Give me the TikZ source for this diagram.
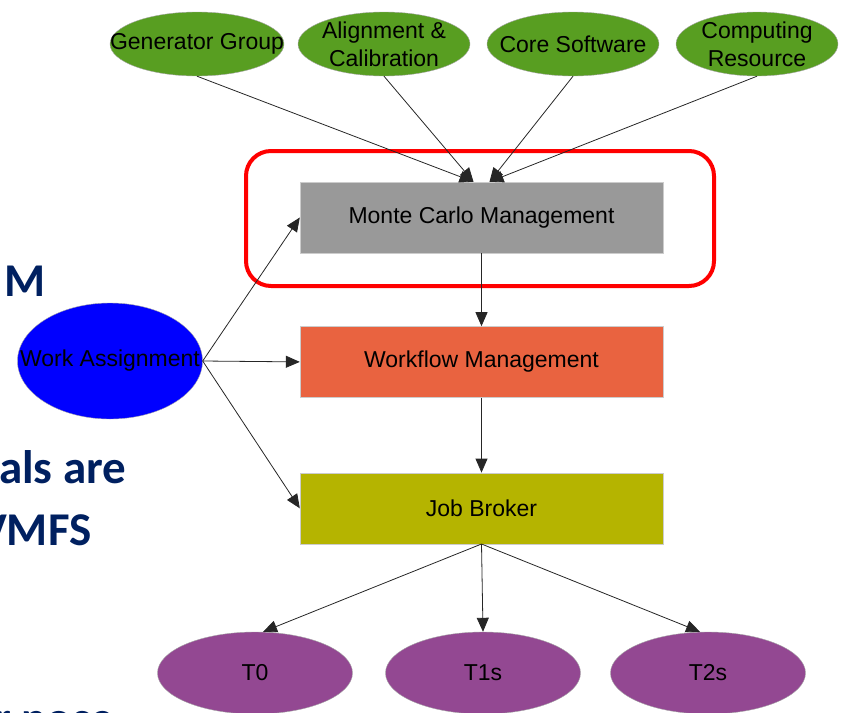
\documentclass[tikz,border=0pt]{standalone}
\usepackage{fontspec}
\setmainfont{Liberation Sans}
\newfontfamily\slidefont{Carlito}
\usetikzlibrary{shapes.geometric}
\usetikzlibrary{arrows.meta}
\usetikzlibrary{positioning}

\definecolor{grpgreen}{RGB}{88,158,33}
\definecolor{wablue}{RGB}{0,0,255}
\definecolor{mcgray}{RGB}{153,153,153}
\definecolor{wforange}{RGB}{233,99,64}
\definecolor{jbolive}{RGB}{181,180,0}
\definecolor{tierpurple}{RGB}{147,72,146}
\definecolor{slidenavy}{RGB}{0,32,96}

\tikzset{
  oval/.style={ellipse,draw=gray!70,thin,inner sep=0pt},
  ovaltext/.style={font=\fontsize{23}{28}\selectfont,align=center},
  block/.style={rectangle,draw=gray!40,thin,minimum width=363,minimum height=71,inner sep=0pt,font=\fontsize{23}{28}\selectfont},
  edge/.style={-{Triangle[length=14pt,width=12pt]},line width=0.8pt,draw=black!85},
  slide/.style={anchor=base west,inner sep=0pt,text=slidenavy,font=\slidefont\bfseries\fontsize{47}{56}\selectfont}
}

\begin{document}
\begin{tikzpicture}[x=1pt,y=-1pt]
  \useasboundingbox (0,0) rectangle (842,712);
  \clip (0,0) rectangle (842,712);
  %slide text behind the diagram
  \node[slide] (s1) at (4,296) {M};
  \node[slide] (s2) at (-1,483) {als are};
  \node[slide] (s3) at (-21,545) {VMFS};
  \node[slide] (s4) at (-6,734) {r nose};

  %inputs
  \node[oval,fill=grpgreen,minimum width=174,minimum height=64,label={[ovaltext]center:Generator Group}] (gen) at (197,44) {};
  \node[oval,fill=grpgreen,minimum width=172,minimum height=64,label={[ovaltext]center:Alignment \&\\Calibration}] (align) at (384,44) {};
  \node[oval,fill=grpgreen,minimum width=172,minimum height=64,label={[ovaltext]center:Core Software}] (core) at (573,44) {};
  \node[oval,fill=grpgreen,minimum width=162,minimum height=64,label={[ovaltext]center:Computing\\Resource}] (comp) at (757,44) {};

  %management chain
  \node[block,fill=mcgray] (mc) at (481.5,217.5) {Monte Carlo Management};
  \node[block,fill=wforange,below=73pt of mc] (wf) {Workflow Management};
  \node[block,fill=jbolive,below=75pt of wf] (jb) {Job Broker};
  \draw[red,line width=4pt,rounded corners=25pt] (246,151) rectangle (714,286);

  \node[oval,fill=wablue,minimum width=185,minimum height=116,label={[ovaltext]center:Work Assignment}] (wa) at (110,361) {};

  %tiers
  \node[oval,fill=tierpurple,minimum width=195,minimum height=82,label={[ovaltext]center:T0}] (t0) at (255,673) {};
  \node[oval,fill=tierpurple,minimum width=195,minimum height=82,label={[ovaltext]center:T1s}] (t1) at (483,673) {};
  \node[oval,fill=tierpurple,minimum width=195,minimum height=82,label={[ovaltext]center:T2s}] (t2) at (708,673) {};

  %edges
  \draw[edge] (gen.south) -- ([xshift=-8pt]mc.north);
  \draw[edge] (align.south) -- ([xshift=-8pt]mc.north);
  \draw[edge] (core.south) -- ([xshift=8pt]mc.north);
  \draw[edge] (comp.south) -- ([xshift=8pt]mc.north);
  \draw[edge] (wa.east) -- (mc.west);
  \draw[edge] (wa.east) -- (wf.west);
  \draw[edge] (wa.east) -- (jb.west);
  \draw[edge] (mc) -- (wf);
  \draw[edge] (wf) -- (jb);
  \draw[edge] (jb.south) -- ([xshift=8pt]t0.north);
  \draw[edge] (jb.south) -- (t1.north);
  \draw[edge] (jb.south) -- ([xshift=-8pt]t2.north);
\end{tikzpicture}
\end{document}
